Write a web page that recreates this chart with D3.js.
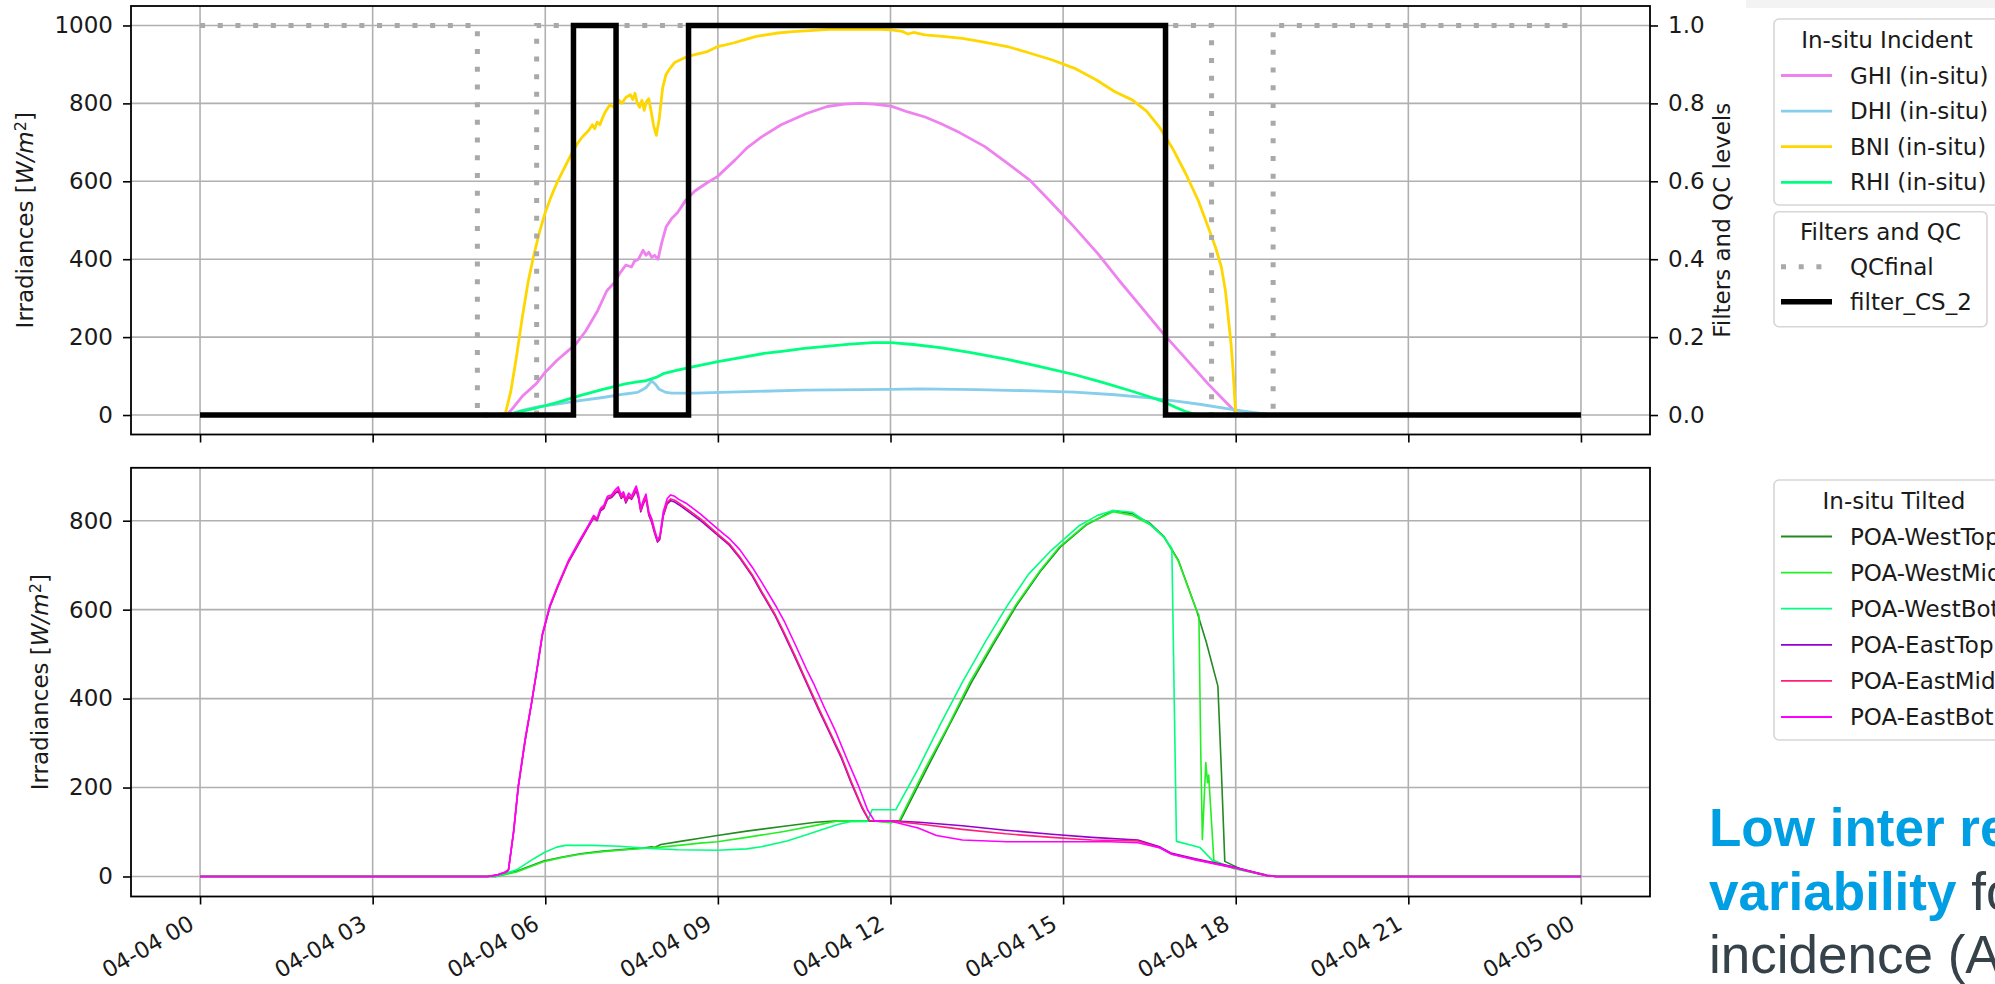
<!DOCTYPE html>
<html>
<head>
<meta charset="utf-8">
<script src="https://cdnjs.cloudflare.com/ajax/libs/d3/7.8.5/d3.min.js"></script>
<style>
  body { margin: 0; background: #fff; }
  svg { display: block; }
  text { font-family: "DejaVu Sans", sans-serif; fill: #1a1a1a; }
</style>
</head>
<body>
<svg id="chart" width="1995" height="984"></svg>
<script>
/* ---- data: [hour of 2023-04-04, value] ---- */

// in-situ incident irradiances (W/m2)
var ghi = [[0,0],[5.33,0],[5.45,20],[5.6,48],[5.84,80],[6.0,110],[6.2,140],[6.53,182],[6.7,215],[6.9,265],
  [7.07,319],[7.2,340],[7.3,365],[7.4,385],[7.5,380],[7.55,395],[7.62,400],[7.7,423],[7.75,410],[7.8,418],
  [7.85,405],[7.9,410],[7.96,400],[8.02,440],[8.1,483],[8.2,505],[8.3,520],[8.44,551],[8.6,575],[8.8,595],
  [8.99,612],[9.3,655],[9.5,685],[9.76,714],[10.1,745],[10.54,774],[10.9,792],[11.2,798],[11.47,800],[11.7,798],
  [12.01,793],[12.3,778],[12.6,765],[12.86,749],[13.2,725],[13.64,689],[14.0,650],[14.42,603],[14.8,545],
  [15.19,483],[15.6,415],[15.97,346],[16.4,270],[16.74,209],[17.1,150],[17.52,80],[17.75,45],[17.95,15],
  [18.05,0],[24,0]];
var dhi = [[0,0],[5.33,0],[5.6,12],[5.84,20],[6.2,28],[6.6,37],[7.0,45],[7.39,54],[7.6,58],[7.75,70],
  [7.85,88],[7.92,78],[7.98,66],[8.1,58],[8.2,56],[8.6,56],[9.5,60],[10.5,64],[11.5,65],[12.0,66],[12.5,67],
  [13.5,65],[14.5,62],[15.2,59],[15.9,52],[16.5,44],[17.0,35],[17.4,27],[17.9,15],[18.2,9],[18.4,5],[18.6,0],[24,0]];
var bni = [[0,0],[5.3,0],[5.4,60],[5.5,150],[5.6,250],[5.7,340],[5.8,410],[5.9,470],[6.0,520],[6.1,560],
  [6.2,595],[6.3,625],[6.43,663],[6.55,695],[6.65,715],[6.75,730],[6.82,745],[6.86,735],[6.9,752],[6.95,745],
  [7.0,765],[7.05,780],[7.12,796],[7.2,790],[7.28,808],[7.33,800],[7.4,815],[7.48,822],[7.52,810],[7.56,826],
  [7.6,800],[7.64,790],[7.68,808],[7.72,782],[7.76,805],[7.8,812],[7.84,780],[7.88,745],[7.93,718],[7.98,760],
  [8.04,840],[8.1,875],[8.17,890],[8.25,905],[8.35,912],[8.46,920],[8.6,925],[8.8,932],[9.0,946],[9.27,955],
  [9.5,965],[9.67,972],[10.0,980],[10.3,984],[10.6,987],[10.93,990],[11.2,990],[11.5,991],[11.8,990],
  [12.01,989],[12.2,985],[12.3,978],[12.4,982],[12.6,976],[12.9,972],[13.25,967],[13.6,958],[14.03,946],
  [14.4,930],[14.8,912],[15.2,890],[15.58,860],[15.9,830],[16.2,809],[16.45,780],[16.67,740],[16.9,685],
  [17.13,620],[17.35,550],[17.52,483],[17.65,430],[17.75,380],[17.82,320],[17.87,251],[17.92,180],[17.95,122],
  [17.98,50],[18.0,5],[18.05,0],[24,0]];
var rhi = [[0,0],[5.33,0],[5.6,10],[5.84,18],[6.2,32],[6.6,50],[7.0,66],[7.39,80],[7.6,85],[7.75,88],
  [7.85,93],[7.95,98],[8.05,106],[8.3,115],[8.6,125],[9.0,137],[9.37,147],[9.8,158],[10.15,164],[10.5,171],
  [10.93,177],[11.3,182],[11.7,186],[12.01,186],[12.4,181],[12.86,173],[13.4,160],[14.03,143],[14.6,124],
  [15.19,104],[15.7,83],[16.2,61],[16.5,47],[16.74,35],[16.95,20],[17.13,9],[17.3,2],[17.4,0],[24,0]];

// filters and QC flags (0/1), value holds from each hour until the next
var qcFinal = [[0,1],[4.82,0],[5.85,1],[17.58,0],[18.65,1],[24,1]];
var filterCS2 = [[0,0],[6.49,1],[7.23,0],[8.49,1],[16.78,0],[24,0]];

// in-situ tilted (plane of array) irradiances (W/m2)
var westTop = [[0,0],[5.14,0],[5.5,12],[5.97,35],[6.3,44],[6.61,51],[7.0,57],[7.39,61],[7.7,64],[7.85,67],
  [7.9,65],[8.01,72],[8.4,80],[8.69,86],[8.99,92],[9.5,102],[10.15,113],[10.7,122],[11.08,125],[11.7,125],
  [12.01,122],[12.17,125],[12.63,242],[13.0,335],[13.41,437],[13.8,525],[14.19,609],[14.6,685],[14.96,742],
  [15.4,790],[15.87,823],[16.2,816],[16.5,795],[16.75,765],[17.0,712],[17.32,598],[17.49,526],[17.69,428],
  [17.75,240],[17.81,34],[18.1,16],[18.54,3],[18.7,0],[24,0]];
var westMid = [[0,0],[5.14,0],[5.5,10],[5.97,33],[6.3,43],[6.61,50],[7.0,56],[7.39,60],[7.7,63],[8.01,66],
  [8.4,71],[8.69,75],[8.99,78],[9.5,88],[10.15,101],[10.7,115],[11.08,125],[11.7,125],[12.01,121],[12.15,125],
  [12.6,242],[13.0,338],[13.38,437],[13.8,530],[14.17,609],[14.6,688],[14.94,742],[15.4,792],[15.87,820],
  [16.2,812],[16.5,792],[16.75,763],[17.0,710],[17.32,598],[17.36,588],[17.39,300],[17.42,83],[17.48,256],
  [17.51,211],[17.53,228],[17.62,36],[17.96,18],[18.54,2],[18.7,0],[24,0]];
var westBot = [[0,0],[5.14,0],[5.5,15],[5.8,40],[6.0,55],[6.2,66],[6.35,70],[6.8,70],[7.3,68],[7.82,63],
  [8.3,60],[8.99,59],[9.5,62],[9.76,67],[10.2,80],[10.54,94],[11.08,117],[11.3,123],[11.6,124],[11.68,150],
  [12.09,150],[12.48,242],[12.85,338],[13.25,437],[13.65,528],[14.03,609],[14.4,680],[14.8,734],[15.27,788],
  [15.6,812],[15.87,823],[16.2,819],[16.5,793],[16.74,765],[16.89,738],[16.97,79],[17.38,65],[17.61,34],
  [17.96,19],[18.54,2],[18.7,0],[24,0]];
var eastTop = [[0,0],[5.0,0],[5.15,3],[5.3,9],[5.36,14],[5.45,100],[5.53,200],[5.65,305],[5.76,388],
  [5.86,468],[5.95,543],[6.08,606],[6.22,652],[6.4,706],[6.6,752],[6.75,786],[6.84,806],[6.9,800],[6.96,822],
  [7.02,828],[7.08,848],[7.15,852],[7.22,862],[7.27,866],[7.32,850],[7.36,857],[7.4,840],[7.45,853],[7.5,848],
  [7.55,860],[7.58,868],[7.62,850],[7.66,820],[7.7,836],[7.75,850],[7.8,812],[7.85,796],[7.9,772],[7.95,752],
  [7.99,758],[8.05,810],[8.12,838],[8.18,845],[8.25,842],[8.32,836],[8.44,825],[8.7,800],[8.99,768],[9.2,745],
  [9.38,716],[9.6,675],[9.76,638],[10.0,585],[10.15,545],[10.35,490],[10.54,435],[10.75,375],[10.93,326],
  [11.15,265],[11.32,209],[11.5,155],[11.63,125],[11.8,125],[12.0,125],[12.5,122],[13.25,114],[14.0,104],
  [14.8,95],[15.5,88],[16.3,82],[16.69,66],[16.89,52],[17.3,40],[17.96,22],[18.54,2],[18.7,0],[24,0]];
var eastMid = [[0,0],[5.0,0],[5.15,3],[5.3,9],[5.36,14],[5.45,101],[5.53,201],[5.65,306],[5.76,389],
  [5.86,469],[5.95,544],[6.08,607],[6.22,653],[6.4,707],[6.6,754],[6.75,788],[6.84,808],[6.9,802],[6.96,825],
  [7.02,831],[7.08,851],[7.15,855],[7.22,865],[7.27,870],[7.32,853],[7.36,860],[7.4,843],[7.45,856],[7.5,851],
  [7.55,864],[7.58,872],[7.62,854],[7.66,823],[7.7,839],[7.75,853],[7.8,815],[7.85,799],[7.9,775],[7.95,755],
  [7.99,761],[8.05,813],[8.12,842],[8.18,849],[8.25,846],[8.32,840],[8.44,829],[8.7,804],[8.99,771],[9.2,748],
  [9.38,719],[9.6,678],[9.76,641],[10.0,588],[10.15,549],[10.35,494],[10.54,439],[10.75,379],[10.93,330],
  [11.15,269],[11.32,213],[11.5,158],[11.63,126],[11.8,125],[12.0,125],[12.5,118],[13.25,106],[14.0,96],
  [14.8,88],[15.5,82],[16.3,80],[16.69,64],[16.89,50],[17.3,38],[17.96,20],[18.54,2],[18.7,0],[24,0]];
var eastBot = [[0,0],[5.0,0],[5.15,3],[5.3,10],[5.36,15],[5.45,102],[5.53,203],[5.65,310],[5.76,390],
  [5.86,470],[5.95,546],[6.08,610],[6.22,656],[6.4,710],[6.6,757],[6.75,790],[6.84,812],[6.9,805],[6.96,828],
  [7.02,835],[7.08,855],[7.15,858],[7.22,870],[7.27,876],[7.32,858],[7.36,865],[7.4,848],[7.45,862],[7.5,855],
  [7.55,870],[7.58,878],[7.62,860],[7.66,828],[7.7,845],[7.75,860],[7.8,820],[7.85,805],[7.9,780],[7.95,758],
  [7.99,765],[8.05,820],[8.12,850],[8.18,858],[8.25,855],[8.32,848],[8.44,840],[8.7,815],[8.99,782],[9.2,760],
  [9.38,735],[9.6,695],[9.76,662],[10.0,610],[10.15,575],[10.35,520],[10.54,466],[10.66,435],[10.85,380],
  [11.05,325],[11.25,262],[11.44,205],[11.6,150],[11.72,125],[12.0,125],[12.2,118],[12.48,109],[12.8,92],
  [13.25,82],[14.03,78],[15.0,78],[15.8,78],[16.3,76],[16.69,64],[16.89,50],[17.3,37],[17.96,20],[18.54,2],
  [18.7,0],[24,0]];

// ticks and legend texts
var irrTicksTop = [0, 200, 400, 600, 800, 1000];
var irrTicksBottom = [0, 200, 400, 600, 800];
var flagTicks = [0, 0.2, 0.4, 0.6, 0.8, 1.0];

var incidentSeries = [
  {name: "GHI (in-situ)", data: ghi, color: "#ee82ee"},
  {name: "DHI (in-situ)", data: dhi, color: "#87ceeb"},
  {name: "BNI (in-situ)", data: bni, color: "#ffd700"},
  {name: "RHI (in-situ)", data: rhi, color: "#00ff7f"}
];
var filterSeries = [
  {name: "QCfinal", data: qcFinal, color: "#a9a9a9", width: 5, dash: "5,12.7"},
  {name: "filter_CS_2", data: filterCS2, color: "#000", width: 5.5, dash: null}
];
var tiltedSeries = [
  {name: "POA-WestTop", data: westTop, color: "#228b22"},
  {name: "POA-WestMid", data: westMid, color: "#22f022"},
  {name: "POA-WestBot", data: westBot, color: "#00ff7f"},
  {name: "POA-EastTop", data: eastTop, color: "#9400d3"},
  {name: "POA-EastMid", data: eastMid, color: "#ff1f7a"},
  {name: "POA-EastBot", data: eastBot, color: "#ff00ff"}
];

/* ---- layout ---- */
var svg = d3.select("#chart");
var left = 131, right = 1650;
var top1 = 6, bot1 = 434.5;      // upper axes frame
var top2 = 467.8, bot2 = 896.5;  // lower axes frame
var gridCol = "#b0b0b0";
var fs = 23;

var day0 = Date.UTC(2023, 3, 4);
function hr(h) { return new Date(day0 + h * 3600e3); }

var x = d3.scaleUtc().domain([hr(-1.2), hr(25.2)]).range([left, right]);
var yTop = d3.scaleLinear().domain([-50, 1050]).range([bot1, top1]);
var yFlag = d3.scaleLinear().domain([-0.05, 1.05]).range([bot1, top1]);
var yBot = d3.scaleLinear().domain([-45, 919]).range([bot2, top2]);
var xTicks = d3.utcHour.every(3).range(hr(0), hr(24.01));

// faint strip at top right (edge of a box outside the figure)
svg.append("rect").attr("x", 1746).attr("y", 0).attr("width", 249).attr("height", 8).attr("fill", "#f3f3f3");

function grid(yScale, yTicks, y0, y1) {
  var g = svg.append("g");
  g.selectAll(".gx").data(xTicks).join("line")
    .attr("x1", d => x(d)).attr("x2", d => x(d)).attr("y1", y0).attr("y2", y1)
    .attr("stroke", gridCol).attr("stroke-width", 1.6);
  g.selectAll(".gy").data(yTicks).join("line")
    .attr("x1", left).attr("x2", right).attr("y1", d => yScale(d)).attr("y2", d => yScale(d))
    .attr("stroke", gridCol).attr("stroke-width", 1.6);
}
grid(yTop, irrTicksTop, top1, bot1);
grid(yBot, irrTicksBottom, top2, bot2);

function lineOf(yScale, curve) {
  return d3.line().x(d => x(hr(d[0]))).y(d => yScale(d[1])).curve(curve || d3.curveLinear);
}

// upper panel: incident irradiances
svg.append("g").selectAll("path").data(incidentSeries).join("path")
  .attr("d", d => lineOf(yTop)(d.data))
  .attr("fill", "none").attr("stroke", d => d.color).attr("stroke-width", 2.8)
  .attr("stroke-linejoin", "round");

// upper panel, twin axis: filters
svg.append("g").selectAll("path").data(filterSeries).join("path")
  .attr("d", d => lineOf(yFlag, d3.curveStepAfter)(d.data))
  .attr("fill", "none").attr("stroke", d => d.color).attr("stroke-width", d => d.width)
  .attr("stroke-dasharray", d => d.dash);

// lower panel: tilted irradiances
svg.append("g").selectAll("path").data(tiltedSeries).join("path")
  .attr("d", d => lineOf(yBot)(d.data))
  .attr("fill", "none").attr("stroke", d => d.color).attr("stroke-width", 1.6)
  .attr("stroke-linejoin", "round");

// frames
[[top1, bot1], [top2, bot2]].forEach(function (f) {
  svg.append("rect").attr("x", left).attr("y", f[0]).attr("width", right - left).attr("height", f[1] - f[0])
    .attr("fill", "none").attr("stroke", "#000").attr("stroke-width", 1.8);
});

function styleAxis(g) {
  g.select(".domain").remove();
  g.selectAll(".tick line").attr("stroke", "#000").attr("stroke-width", 1.6);
  g.selectAll(".tick text").attr("font-size", fs).attr("font-family", "DejaVu Sans").attr("fill", "#1a1a1a");
}

// y axes
svg.append("g").attr("transform", "translate(" + left + ",0)")
  .call(d3.axisLeft(yTop).tickValues(irrTicksTop).tickSize(8).tickPadding(10).tickFormat(d3.format("d")))
  .call(styleAxis);
svg.append("g").attr("transform", "translate(" + right + ",0)")
  .call(d3.axisRight(yFlag).tickValues(flagTicks).tickSize(8).tickPadding(10).tickFormat(d3.format(".1f")))
  .call(styleAxis);
svg.append("g").attr("transform", "translate(" + left + ",0)")
  .call(d3.axisLeft(yBot).tickValues(irrTicksBottom).tickSize(8).tickPadding(10).tickFormat(d3.format("d")))
  .call(styleAxis);

// x axes (upper without labels)
svg.append("g").attr("transform", "translate(0," + bot1 + ")")
  .call(d3.axisBottom(x).tickValues(xTicks).tickSize(8).tickFormat(""))
  .call(styleAxis);
var xb = svg.append("g").attr("transform", "translate(0," + bot2 + ")")
  .call(d3.axisBottom(x).tickValues(xTicks).tickSize(8).tickFormat(d3.utcFormat("%m-%d %H")))
  .call(styleAxis);
xb.selectAll(".tick text")
  .attr("x", 0).attr("y", 0).attr("dy", null)
  .attr("font-size", 22.5)
  .attr("text-anchor", "end")
  .attr("transform", "translate(-5,31.5) rotate(-30)");

// axis titles
function yTitle(tx, ty, parts) {
  var t = svg.append("text").attr("transform", "translate(" + tx + "," + ty + ") rotate(-90)")
    .attr("text-anchor", "middle").attr("font-size", fs);
  parts.forEach(function (p) {
    var s = t.append("tspan").text(p.t);
    if (p.it) s.attr("font-style", "italic");
    if (p.sup) s.attr("font-size", fs * 0.7).attr("baseline-shift", "45%");
  });
}
var irrLabel = [{t: "Irradiances ["}, {t: "W/m", it: true}, {t: "2", sup: true}, {t: "]"}];
yTitle(33, (top1 + bot1) / 2, irrLabel);
yTitle(48, (top2 + bot2) / 2, irrLabel);
yTitle(1730, (top1 + bot1) / 2, [{t: "Filters and QC levels"}]);

// legends
function legend(x0, y0, w, h, title, titleY, rows, rowY0, rowStep) {
  var g = svg.append("g");
  g.append("rect").attr("x", x0).attr("y", y0).attr("width", w).attr("height", h).attr("rx", 5)
    .attr("fill", "#fff").attr("stroke", "#d6d6d6").attr("stroke-width", 1.6);
  g.append("text").attr("x", x0 + w / 2).attr("y", titleY).attr("text-anchor", "middle")
    .attr("dominant-baseline", "central").attr("font-size", fs).text(title);
  rows.forEach(function (r, i) {
    var ry = rowY0 + i * rowStep;
    g.append("line").attr("x1", x0 + 7).attr("x2", x0 + 58).attr("y1", ry).attr("y2", ry)
      .attr("stroke", r.color).attr("stroke-width", r.lw).attr("stroke-dasharray", r.dash || null);
    g.append("text").attr("x", x0 + 76).attr("y", ry).attr("dominant-baseline", "central")
      .attr("font-size", fs).text(r.name);
  });
}
legend(1774, 19, 226, 186, "In-situ Incident", 39.5,
  incidentSeries.map(s => ({name: s.name, color: s.color, lw: 2.8})), 75.5, 35.6);
legend(1774, 211.7, 213, 115, "Filters and QC", 231.7,
  filterSeries.map(s => ({name: s.name, color: s.color, lw: s.width, dash: s.dash})), 266.7, 35);
legend(1774, 480, 240, 260, "In-situ Tilted", 500.7,
  tiltedSeries.map(s => ({name: s.name, color: s.color, lw: 1.8})), 536.5, 36.1);

// annotation text (cut by the right edge of the figure)
var note = svg.append("g").attr("font-family", "Liberation Sans, Arial, sans-serif").attr("font-size", 53);
note.append("text").attr("x", 1709).attr("y", 846).attr("font-weight", "bold")
  .style("fill", "#009fe3").style("font-family", "Liberation Sans, Arial, sans-serif").text("Low inter re");
var l2 = note.append("text").attr("x", 1709).attr("y", 910).style("font-family", "Liberation Sans, Arial, sans-serif");
l2.append("tspan").attr("font-weight", "bold").style("fill", "#009fe3").text("variability");
l2.append("tspan").style("fill", "#36424a").text(" fo");
note.append("text").attr("x", 1709).attr("y", 973).style("fill", "#36424a")
  .style("font-family", "Liberation Sans, Arial, sans-serif").text("incidence (A");
</script>
</body>
</html>
